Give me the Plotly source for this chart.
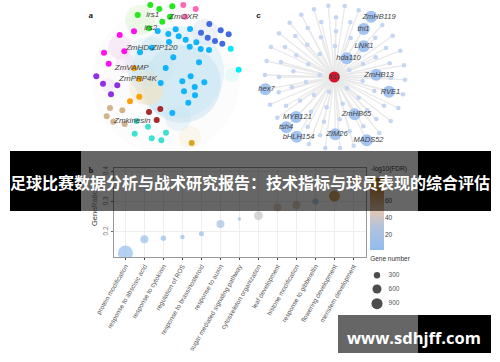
import plotly.graph_objects as go

# ---------- panel a (network) : node positions
green_x = [150.3,159.3,172.3,137.7,170,162.3,149]
green_y = [5,9,6.3,15,16.7,21.7,28.3]
pink_x = [183.3,195.7,185]
pink_y = [5,9,16.7]
royal_x = [209.3,201,220.7,228.7,207.7,215,222.3]
royal_y = [24,32.7,30.3,34.3,37.7,41,43.7]
cyan_x = [230.7,238.7]
cyan_y = [48.7,69.7]
sky_x = [157.7,175.7,190,168.3,178.7,185.7,169,196.3,189.7,200.7,209,151.7,140,173.3,199,165.7,190.7,182.3,204.3,160.7,194.7,184,195,188.3,172.3]
sky_y = [31,29.3,29,34,36.3,39.7,42,42.3,46.7,49,50,47.7,52.3,57.3,62.3,68,76.3,81.3,82.3,83,87,91.3,95.3,102.7,113]
magenta_x = [119.7,134,104,124.3,108.7]
magenta_y = [35,31.3,52.7,51.3,63.7]
purple_x = [96.3,103,117.3,111]
purple_y = [76.3,83.7,85.3,94.3]
orange_x = [134,139.3,139.3,130]
orange_y = [68.3,79,96.7,101.3]
tan_x = [110,122.3,106.7,113.3,124.7]
tan_y = [108,110.3,116.3,121.7,124]
darkred_x = [149,160.3,156.7]
darkred_y = [112,109,120]
turq_x = [136.7,148,166,134.7,151.7,161.3]
turq_y = [121,126.7,132.7,133.7,138.3,140.3]
gold_x = [191.7]
gold_y = [143]
a_labels = ["irs1","ZmOXR","irs2","ZmHD-ZIP120","ZmVAMP","ZmPRP4K","Zmkinesin"]
a_label_x = [152.7,183.5,150.7,151.7,131.7,138,132.3]
a_label_y = [15,16.7,28,47.7,67.7,78.7,120.7]
# soft clusters of tiny nodes: x, y, diameter, colour
cloud_x = [166,182,178,150,205,120,125,146,140,232,190,178,150,143,108]
cloud_y = [80,84,72,62,32,47,63,88,20,75,137,118,92,75,85]
cloud_d = [148,78,92,50,26,24,20,34,30,14,22,26,26,30,14]
cloud_c = ["rgba(245,245,245,.35)","rgba(190,225,240,.45)","rgba(190,225,240,.35)","rgba(200,228,240,.3)","rgba(220,225,245,.4)",
           "rgba(240,215,240,.45)","rgba(240,215,240,.35)","rgba(245,225,190,.4)","rgba(215,245,205,.45)","rgba(210,245,245,.5)",
           "rgba(245,235,205,.35)","rgba(200,230,240,.35)","rgba(245,225,190,.35)","rgba(200,228,240,.25)","rgba(235,220,245,.4)"]

# ---------- panel c (network)
hub_x, hub_y, hub_label = [334.3], [77], ["irs1"]
leaf_x = [314,328.3,344.7,358.7,301.3,336,289.7,321.3,350.3,382.3,307.7,336,279,392.7,295.3,321,350.7,375.3,307.3,335,271,285,386,400.3,296.3,319.7,375.7,266.7,281,308.3,389.7,363,404,293.3,349.3,265,279,319.7,391,405,362.7,306,292,347,374.3,278.7,329,403,314,358.7,300,270,286,342.7,384,398.3,326.7,311,367.3,277.3,376.3,339.7,324,390.7,307.7,363.3,349.7,379.3,320,309,325.3,340,353.7]
leaf_y = [9.3,5.7,6,10.3,14.7,17.3,22.7,22,22.3,25,28,31.3,33.3,35.7,36,37.3,38,37.7,44.7,46,47,47,48,50.7,55.3,54,57.3,61,62,64.3,63.3,64,65.3,71.3,70,75,77,75,78,79.7,81,82,87.3,88,91,92.3,91.7,94.3,95,97.7,100.7,104.7,105.7,103.7,105.7,108,107.3,111.7,110.3,117.7,119,119.3,121.7,121,126.7,126.3,131.3,133,135.3,144,148,148,145.7]
big_x = [371.3,363.7,363.7,346.7,376.3,389,265.3,296,286.3,296.7,335.3,354.7,366.7]
big_y = [16.7,29,46.3,58.3,74.7,91.7,89.3,117,127.3,136.7,134.3,114.3,140.3]
big_labels = ["ZmHB119","thi1","LNK1","hda110","ZmHB13","RVE1","hex7","MYB121","tsh4","bHLH154","ZIM26","ZmHB65","MADS52"]
big_label_x = [379,363.5,364,348.5,379,390.5,266.5,297.5,286,298.5,337,356.5,368.5]

# ---------- panel b (bubble chart)
terms = ["protein modification","response to abscisic acid","response to cytokinin","regulation of ROS",
         "response to brassinosteroid","response to auxin","sugar mediated signaling pathway",
         "cytoskeleton organization","leaf development","histone modification","response to gibberellin",
         "flowering development","meristem development"]
gene_ratio = [0.13,0.176,0.179,0.183,0.194,0.226,0.243,0.254,0.281,0.289,0.301,0.319,0.37]
log_fdr = [6,8,7,6,8,18,9,38,48,52,10,82,70]
gene_num = [1640,467,221,148,183,467,90,590,467,467,263,884,300]
fdr_ticks = [20,40,60]
legend_genes = [300,600,900]
legend_y = [275.3,289,303.7]
colorbar_levels = [2,10,20,30,40,50,60,70,80,86]
scale = [[0,"#8fbcf0"],[0.33,"#b4c2dc"],[0.55,"#e3c6b2"],[0.78,"#d09a5c"],[1,"#c07a10"]]

title_text = "足球比赛数据分析与战术研究报告：技术指标与球员表现的综合评估"
site_text = "www.sdhjff.com"
y_title = "GeneRatio"

SANS = "Liberation Sans"


def diam(n):
    return 0.37 * n ** 0.5


fig = go.Figure()


def nodes(x, y, color, size):
    fig.add_trace(go.Scatter(x=x, y=y, mode="markers", marker=dict(color=color, size=size, line_width=0),
                             hoverinfo="skip", showlegend=False))


def labels(x, y, text, size=8, color="#444", font=SANS, style="italic", weight="normal"):
    fig.add_trace(go.Scatter(x=x, y=y, mode="text", text=text,
                             textfont=dict(size=size, color=color, family=font, style=style, weight=weight),
                             hoverinfo="skip", showlegend=False))


# panel a
for x, y, d, c in zip(cloud_x, cloud_y, cloud_d, cloud_c):
    nodes([x], [y], c, d)
for x, y, c in [(green_x, green_y, "#22e81c"), (pink_x, pink_y, "#ff69b4"), (royal_x, royal_y, "#4169e1"),
                (cyan_x, cyan_y, "#08e8fa"), (sky_x, sky_y, "#0fb4fa"), (magenta_x, magenta_y, "#ff10f0"),
                (purple_x, purple_y, "#9030e0"), (orange_x, orange_y, "#ff9f0a"), (tan_x, tan_y, "#d2b48c"),
                (darkred_x, darkred_y, "#a52a2a"), (turq_x, turq_y, "#40e0d0"), (gold_x, gold_y, "#daa520")]:
    nodes(x, y, c, 6)
labels(a_label_x, a_label_y, a_labels)

# panel c
all_x, all_y = leaf_x + big_x, leaf_y + big_y
ex, ey = [], []
for x, y in zip(all_x, all_y):
    ex += [hub_x[0], x, None]
    ey += [hub_y[0], y, None]
fig.add_trace(go.Scatter(x=ex, y=ey, mode="lines", line=dict(color="#e9e9e9", width=1.3),
                         hoverinfo="skip", showlegend=False))
nodes(leaf_x, leaf_y, "#c5d6f2", 4.6)
nodes(big_x, big_y, "#a3c3f0", 12)
nodes(hub_x, hub_y, "#d8142c", 11)
labels(big_label_x, big_y, big_labels, size=7.5)
labels(hub_x, hub_y, hub_label, size=7)

# letters and texts that sit beneath the band
labels([90.7], [16], ["a"], size=9, color="#222", font="Liberation Serif", style="normal", weight="bold")
labels([258.5], [16], ["c"], size=8, color="#111", style="normal", weight="bold")
labels([91], [170.5], ["b"], size=8, color="#222", font="Liberation Serif", style="normal", weight="bold")
labels([389], [169], ["-log10(FDR)"], size=6.5, color="#333", style="normal")
labels([390], [259], ["Gene number"], size=6.5, color="#333", style="normal")
labels([394] * 3, legend_y, [str(g) for g in legend_genes], size=6.5, color="#555", style="normal")
fig.add_trace(go.Scatter(x=[377] * 3, y=legend_y, mode="markers",
                         marker=dict(color="#000", size=[diam(g) for g in legend_genes], line_width=0),
                         hoverinfo="skip", showlegend=False))

# panel b
fig.add_trace(go.Scatter(x=terms, y=gene_ratio, xaxis="x2", yaxis="y2", mode="markers", cliponaxis=True,
                         marker=dict(size=[diam(n) for n in gene_num], color=log_fdr, colorscale=scale,
                                     cmin=2, cmax=86, line_width=0),
                         hoverinfo="skip", showlegend=False))

# colour bar as a small heatmap
fig.add_trace(go.Heatmap(x=[0], y=colorbar_levels, z=[[v] for v in colorbar_levels], xaxis="x3", yaxis="y3",
                         colorscale=scale, zmin=2, zmax=86, zsmooth="best", showscale=False, hoverinfo="skip"))

grid = dict(showgrid=True, gridcolor="#eeeeee", gridwidth=1, zeroline=False)
fig.update_layout(
    width=500, height=362, margin=dict(l=0, r=0, t=0, b=0, autoexpand=False), paper_bgcolor="#fff", plot_bgcolor="rgba(0,0,0,0)",
    showlegend=False, font=dict(family=SANS),
    xaxis=dict(range=[0, 500], domain=[0, 1], visible=False, automargin=False),
    yaxis=dict(range=[362, 0], domain=[0, 1], visible=False, automargin=False),
    xaxis2=dict(domain=[114 / 500, 366 / 500], anchor="y2", type="category", categoryorder="array", automargin=False,
                categoryarray=terms, range=[-0.6, 12.66], tickangle=-60, ticks="outside", ticklen=2,
                tickcolor="#444", tickfont=dict(size=6.5, color="#555"), showline=True, linecolor="#999",
                linewidth=1, mirror=True, **grid),
    yaxis2=dict(domain=[1 - 257 / 362, 1 - 168 / 362], anchor="x2", range=[0.117, 0.412], tickvals=[0.2, 0.3, 0.4], automargin=False,
                tickformat=".1f", tickangle=-90, ticks="outside", ticklen=2, tickcolor="#666",
                tickfont=dict(size=6.5, color="#777"), showline=True, linecolor="#999", linewidth=1, mirror=True, **grid),
    xaxis3=dict(domain=[370 / 500, 384 / 500], anchor="y3", visible=False, automargin=False),
    yaxis3=dict(domain=[1 - 250 / 362, 1 - 178 / 362], anchor="x3", range=[2, 86], side="right", automargin=False,
                tickvals=fdr_ticks, ticks="", showline=False, showgrid=False, zeroline=False,
                tickfont=dict(size=6.5, color="#444")),
    shapes=[
        dict(type="rect", xref="x", yref="y", x0=10, x1=81, y0=151, y1=211, fillcolor="#000", line_width=0, layer="above"),
        dict(type="rect", xref="x", yref="y", x0=81, x1=418, y0=151, y1=211, fillcolor="rgba(0,0,0,.6)", line_width=0, layer="above"),
        dict(type="rect", xref="x", yref="y", x0=418, x1=491, y0=151, y1=211, fillcolor="#000", line_width=0, layer="above"),
        dict(type="rect", xref="x", yref="y", x0=338, x1=418, y0=315, y1=353, fillcolor="rgba(0,0,0,.6)", line_width=0, layer="above"),
        dict(type="rect", xref="x", yref="y", x0=418, x1=491, y0=315, y1=353, fillcolor="#000", line_width=0, layer="above"),
    ],
    annotations=[
        dict(text=y_title, xref="x", yref="y", x=94, y=208, textangle=-90, showarrow=False,
             font=dict(size=7.5, color="#333")),
        dict(text=title_text, xref="x", yref="y", x=250, y=182, showarrow=False,
             font=dict(size=16, color="#fff", family="Noto Sans CJK SC", weight="bold")),
        dict(text=site_text, xref="x", yref="y", x=414, y=337, showarrow=False,
             font=dict(size=16.5, color="#fff", family="Open Sans", weight="bold")),
    ],
)
fig.write_html("out.html", post_script="document.body.style.margin='0';", config=dict(displayModeBar=False))
